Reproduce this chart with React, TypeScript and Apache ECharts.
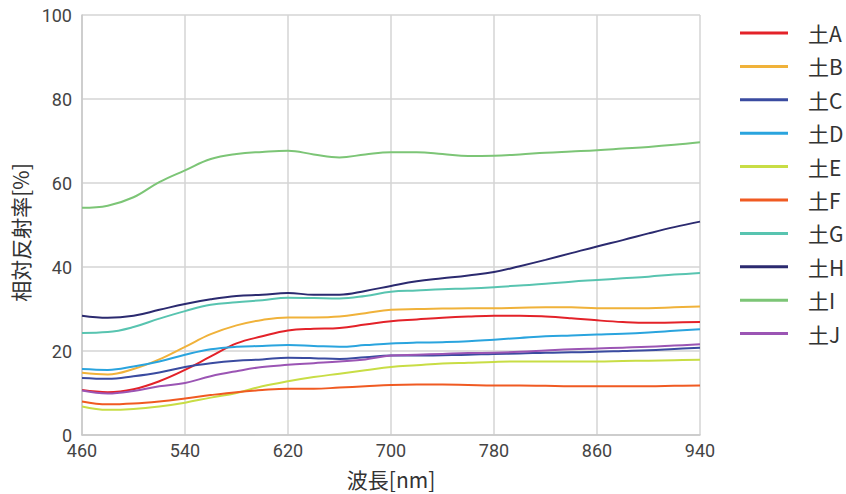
import React, { useEffect, useRef } from "react";
import * as echarts from "echarts";

const wavelengths = [460, 480, 500, 520, 540, 560, 580, 600, 620, 640, 660, 680, 700, 720, 740, 760, 780, 800, 820, 840, 860, 880, 900, 920, 940];

const seriesNames = ["土A", "土B", "土C", "土D", "土E", "土F", "土G", "土H", "土I", "土J"];
const seriesColors = ["#e32229", "#f0b23a", "#3a4ba0", "#2aa4de", "#c8dd45", "#f05a22", "#58c4b0", "#2b2a6f", "#7cc576", "#9b55b4"];

const soilA = [10.7, 10.2, 10.9, 12.8, 15.5, 18.7, 21.8, 23.5, 24.9, 25.3, 25.5, 26.3, 27.1, 27.5, 27.9, 28.2, 28.4, 28.4, 28.2, 27.8, 27.3, 26.9, 26.7, 26.8, 26.9];
const soilB = [14.8, 14.4, 15.7, 18.0, 21.0, 24.0, 26.1, 27.4, 28.0, 28.0, 28.2, 29.0, 29.8, 30.0, 30.1, 30.2, 30.2, 30.3, 30.4, 30.4, 30.2, 30.2, 30.2, 30.4, 30.6];
const soilC = [13.6, 13.4, 14.0, 14.9, 16.2, 17.1, 17.7, 18.0, 18.4, 18.3, 18.1, 18.5, 18.9, 18.9, 19.0, 19.1, 19.3, 19.4, 19.6, 19.7, 19.8, 20.0, 20.2, 20.5, 20.8];
const soilD = [15.7, 15.5, 16.3, 17.5, 19.1, 20.4, 21.0, 21.2, 21.4, 21.2, 21.0, 21.4, 21.8, 22.0, 22.1, 22.3, 22.7, 23.1, 23.5, 23.7, 23.9, 24.1, 24.4, 24.8, 25.2];
const soilE = [6.8, 6.0, 6.2, 6.8, 7.7, 8.9, 10.0, 11.6, 12.8, 13.8, 14.6, 15.4, 16.2, 16.6, 17.0, 17.2, 17.4, 17.5, 17.5, 17.5, 17.5, 17.6, 17.7, 17.8, 17.9];
const soilF = [8.0, 7.3, 7.5, 8.0, 8.7, 9.5, 10.2, 10.7, 11.0, 11.0, 11.3, 11.6, 11.9, 12.0, 12.0, 11.9, 11.8, 11.8, 11.7, 11.6, 11.6, 11.6, 11.6, 11.7, 11.8];
const soilG = [24.3, 24.5, 25.7, 27.7, 29.5, 31.0, 31.6, 32.1, 32.7, 32.6, 32.5, 33.1, 34.1, 34.4, 34.7, 34.9, 35.2, 35.6, 36.0, 36.5, 36.9, 37.3, 37.7, 38.2, 38.6];
const soilH = [28.4, 27.9, 28.4, 29.8, 31.2, 32.3, 33.1, 33.4, 33.8, 33.4, 33.4, 34.3, 35.5, 36.6, 37.3, 38.0, 38.8, 40.2, 41.7, 43.3, 44.9, 46.4, 48.0, 49.5, 50.8];
const soilI = [54.1, 54.6, 56.6, 60.2, 63.0, 65.7, 66.9, 67.4, 67.7, 66.8, 66.1, 66.8, 67.3, 67.3, 66.9, 66.4, 66.5, 66.8, 67.2, 67.5, 67.8, 68.2, 68.6, 69.1, 69.7];
const soilJ = [10.6, 9.9, 10.5, 11.6, 12.4, 14.0, 15.2, 16.2, 16.7, 17.1, 17.5, 18.0, 18.9, 19.1, 19.3, 19.5, 19.6, 19.8, 20.1, 20.4, 20.6, 20.8, 21.0, 21.3, 21.6];

const seriesValues = [soilA, soilB, soilC, soilD, soilE, soilF, soilG, soilH, soilI, soilJ];

const xTickStart = 460;
const xTickEnd = 940;
const xTickStep = 80;
const yTickStep = 20;

const FONT = "'Noto Sans CJK JP', 'Noto Sans', sans-serif";
const NUM_FONT = "Roboto, 'Noto Sans', sans-serif";

export default function App() {
  const ref = useRef<HTMLDivElement>(null);
  useEffect(() => {
    if (!ref.current) return;
    const chart = echarts.init(ref.current, undefined, { renderer: "svg" });
    chart.setOption({
      animation: false,
      backgroundColor: "#ffffff",
      textStyle: { fontFamily: FONT },
      grid: { left: 82, right: 146, top: 15, bottom: 56, containLabel: false },
      legend: {
        orient: "vertical",
        left: 740,
        top: 22,
        padding: 0,
        icon: "rect",
        itemWidth: 48,
        itemHeight: 3,
        itemGap: 11.4,
        textStyle: { fontSize: 21, color: "#333", fontFamily: FONT, lineHeight: 22, padding: [0, 0, 0, 15] },
        data: seriesNames,
      },
      xAxis: {
        type: "value",
        min: xTickStart,
        max: xTickEnd,
        interval: xTickStep,
        name: "波長[nm]",
        nameLocation: "middle",
        nameGap: 33,
        nameTextStyle: { fontSize: 21, lineHeight: 21, color: "#333", fontFamily: FONT },
        axisLine: { show: true, lineStyle: { color: "#c8c8c8", width: 1.5 } },
        axisTick: { show: false },
        axisLabel: { fontSize: 18, lineHeight: 17, color: "#444", margin: 7, fontFamily: NUM_FONT },
        splitLine: { show: true, lineStyle: { color: "#d4d4d4", width: 1.5 } },
      },
      yAxis: {
        type: "value",
        min: 0,
        max: 100,
        interval: yTickStep,
        name: "相対反射率[%]",
        nameLocation: "middle",
        nameGap: 51,
        nameTextStyle: { fontSize: 21, lineHeight: 21, color: "#333", fontFamily: FONT, padding: [0, 15, 0, 0] },
        axisLine: { show: true, lineStyle: { color: "#c8c8c8", width: 1.5 } },
        axisTick: { show: false },
        axisLabel: { fontSize: 18, lineHeight: 17, color: "#444", margin: 10, fontFamily: NUM_FONT },
        splitLine: { show: true, lineStyle: { color: "#d4d4d4", width: 1.5 } },
      },
      series: seriesNames.map((name, i) => ({
        name,
        type: "line",
        smooth: 0.4,
        symbol: "none",
        color: seriesColors[i],
        lineStyle: { width: 2, color: seriesColors[i] },
        data: wavelengths.map((w, j) => [w, seriesValues[i][j]]),
      })),
    });
    return () => chart.dispose();
  }, []);
  return <div ref={ref} style={{ width: 846, height: 494, position: "absolute", left: 0, top: 0 }} />;
}
